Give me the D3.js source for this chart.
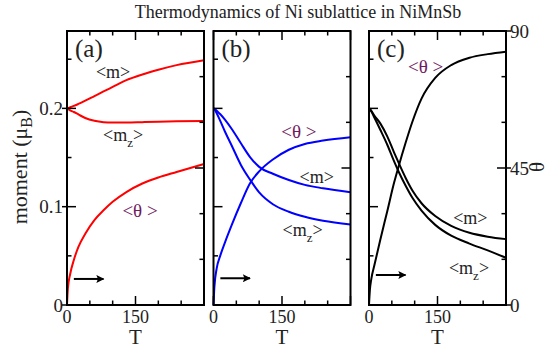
<!DOCTYPE html>
<html>
<head>
<meta charset="utf-8">
<script src="https://d3js.org/d3.v7.min.js"></script>
<style>
	body { margin: 0; background: #fff; }
	svg text { font-family: "Liberation Serif", "Times New Roman", serif; fill: #222; }
</style>
</head>
<body>
<svg id="chart" width="550" height="352" font-family="Liberation Serif, serif"></svg>
<script>
/**
 * Data (T in K, moments in muB, theta in degrees)
 */
let tempAB = [0, 2, 7, 15, 25, 40, 60, 80, 100, 130, 165, 200, 240, 300];
let mA = [0.2, 0.2003, 0.2012, 0.2025, 0.2045, 0.2078, 0.2125, 0.2172, 0.2218, 0.2287, 0.2345, 0.2393, 0.244, 0.249];
let mzA = [0.2, 0.1995, 0.198, 0.1963, 0.1938, 0.1902, 0.1874, 0.186, 0.1856, 0.1856, 0.186, 0.1864, 0.1868, 0.1872];
let thetaA = [0, 5.5, 10.2, 14.8, 19.1, 23.4, 27.9, 31.1, 33.9, 37.1, 39.9, 41.9, 43.7, 46.3];

let mB = [0.2, 0.1998, 0.1975, 0.194, 0.1885, 0.179, 0.1645, 0.1505, 0.1405, 0.1335, 0.1272, 0.1222, 0.1187, 0.1146];
let mzB = [0.2, 0.1993, 0.195, 0.187, 0.1765, 0.162, 0.1425, 0.1275, 0.1145, 0.1025, 0.0949, 0.0898, 0.0858, 0.082];
let thetaB = [0, 6, 12, 16.3, 20.5, 26.3, 33.5, 40, 43.9, 47.8, 51, 52.9, 54, 55.1];

let tempC = [0, 2, 5, 12, 25, 40, 55, 65, 80, 95, 115, 145, 180, 220, 260, 300];
let mC = [0.2, 0.1995, 0.1975, 0.1925, 0.1845, 0.1715, 0.155, 0.1445, 0.1295, 0.1165, 0.1035, 0.0905, 0.0805, 0.0735, 0.0695, 0.067];
let mzC = [0.2, 0.1993, 0.197, 0.1905, 0.178, 0.163, 0.146, 0.1355, 0.1215, 0.109, 0.096, 0.0815, 0.0705, 0.0625, 0.0555, 0.048];
let thetaC = [0, 5, 8.5, 13.2, 21.6, 30.8, 40.2, 45.6, 53.2, 60.2, 67.8, 74.6, 78.8, 81.2, 82.4, 83.2];

let tempTicks = [0, 150];
let momentTicks = [0, 0.1, 0.2];
let thetaTicks = [0, 45, 90];

let title = "Thermodynamics of Ni sublattice in NiMnSb";
let thetaColor = "#701a60";

/**
 * Layout
 */
let plotTop = 31;
let plotBottom = 305;
let panelW = 137;
let panelLefts = [67, 213.5, 369];

let yScale = d3.scaleLinear().domain([0, 0.2787]).range([plotBottom, plotTop]);
let thetaScale = d3.scaleLinear().domain([0, 90]).range([plotBottom, plotTop]);

let svg = d3.select("#chart");

svg.append("defs").append("marker")
	.attr("id", "head")
	.attr("viewBox", "0 0 10 10")
	.attr("refX", 9)
	.attr("refY", 5)
	.attr("markerWidth", 5)
	.attr("markerHeight", 4)
	.attr("markerUnits", "strokeWidth")
	.attr("orient", "auto")
	.append("path")
	.attr("d", "M0,0 L10,5 L0,10 L2,5 Z")
	.attr("fill", "#000");

let panels = [
	{ key: "(a)", color: "#ff0000", temp: tempAB, m: mA, mz: mzA, theta: thetaA,
		labM: [101, 0.237], labMz: [123, 0.173], labTheta: [160, 0.0966], arrowY: 0.0265 },
	{ key: "(b)", color: "#0000ff", temp: tempAB, m: mB, mz: mzB, theta: thetaB,
		labM: [226, 0.131], labMz: [195, 0.0765], labTheta: [187, 0.177], arrowY: 0.0272 },
	{ key: "(c)", color: "#000000", temp: tempC, m: mC, mz: mzC, theta: thetaC,
		labM: [222, 0.0885], labMz: [219, 0.0375], labTheta: [124, 0.243], arrowY: 0.0305 }
];

panels.forEach(function(p, i) {
	let x0 = panelLefts[i];
	let xScale = d3.scaleLinear().domain([0, 300]).range([x0, x0 + panelW]);
	let g = svg.append("g").attr("class", "panel");

	// Curves
	let lineM = d3.line()
		.x(function(d, j) { return xScale(p.temp[j]); })
		.y(function(d) { return yScale(d); })
		.curve(d3.curveMonotoneX);
	let lineTheta = d3.line()
		.x(function(d, j) { return xScale(p.temp[j]); })
		.y(function(d) { return thetaScale(d); })
		.curve(d3.curveMonotoneX);

	[p.m, p.mz].forEach(function(series) {
		g.append("path").datum(series)
			.attr("d", lineM)
			.attr("fill", "none")
			.attr("stroke", p.color)
			.attr("stroke-width", 2);
	});
	g.append("path").datum(p.theta)
		.attr("d", lineTheta)
		.attr("fill", "none")
		.attr("stroke", p.color)
		.attr("stroke-width", 2);

	// Ticks (all inside, majors longer)
	let ticks = g.append("g").attr("stroke", "#000").attr("stroke-width", 1.5);
	d3.range(0, 301, 50).forEach(function(t) {
		let len = (t % 150 === 0) ? 9 : 4.5;
		ticks.append("line").attr("x1", xScale(t)).attr("x2", xScale(t))
			.attr("y1", plotBottom).attr("y2", plotBottom - len);
		ticks.append("line").attr("x1", xScale(t)).attr("x2", xScale(t))
			.attr("y1", plotTop).attr("y2", plotTop + len);
	});
	d3.range(0, 0.2787, 0.05).forEach(function(v, k) {
		let len = (k % 2 === 0) ? 9 : 4.5;
		let out = (i === 0 && k % 2 === 0) ? 5 : 0;
		ticks.append("line").attr("x1", x0 - out).attr("x2", x0 + len)
			.attr("y1", yScale(v)).attr("y2", yScale(v));
	});
	d3.range(0, 91, 15).forEach(function(v) {
		let len = (v % 45 === 0) ? 9 : 4.5;
		let out = (i === 2 && v % 45 === 0) ? 5 : 0;
		ticks.append("line").attr("x1", x0 + panelW + out).attr("x2", x0 + panelW - len)
			.attr("y1", thetaScale(v)).attr("y2", thetaScale(v));
	});

	// Frame
	g.append("rect")
		.attr("x", x0).attr("y", plotTop)
		.attr("width", panelW).attr("height", plotBottom - plotTop)
		.attr("fill", "none").attr("stroke", "#000").attr("stroke-width", 2);

	// X tick labels and axis title
	g.selectAll(".xtick").data(tempTicks).enter().append("text")
		.attr("class", "xtick")
		.attr("x", function(d) { return xScale(d); })
		.attr("y", 323)
		.attr("text-anchor", "middle")
		.style("font-size", "18px")
		.text(function(d) { return d; });
	g.append("text")
		.attr("x", xScale(150)).attr("y", 344)
		.attr("text-anchor", "middle")
		.style("font-size", "21px")
		.text("T");

	// Panel letter
	g.append("text")
		.attr("x", x0 + 8).attr("y", 57)
		.style("font-size", "25px")
		.text(p.key);

	// Annotations
	g.append("text")
		.attr("x", xScale(p.labM[0])).attr("y", yScale(p.labM[1]))
		.attr("dy", "0.35em").attr("text-anchor", "middle")
		.style("font-size", "18px")
		.text("<m>");
	let mz = g.append("text")
		.attr("x", xScale(p.labMz[0])).attr("y", yScale(p.labMz[1]))
		.attr("dy", "0.35em").attr("text-anchor", "middle")
		.style("font-size", "18px");
	mz.append("tspan").text("<m");
	mz.append("tspan").attr("dy", 6).style("font-size", "13px").text("z");
	mz.append("tspan").attr("dy", -6).text(">");
	g.append("text")
		.attr("x", xScale(p.labTheta[0])).attr("y", yScale(p.labTheta[1]))
		.attr("dy", "0.35em").attr("text-anchor", "middle")
		.style("font-size", "19px")
		.style("fill", thetaColor)
		.text("<\u03b8 >");

	// Arrow
	g.append("line")
		.attr("x1", xScale(15)).attr("x2", xScale(80))
		.attr("y1", yScale(p.arrowY)).attr("y2", yScale(p.arrowY))
		.attr("stroke", "#000").attr("stroke-width", 2)
		.attr("marker-end", "url(#head)");
});

// Left axis labels
svg.selectAll(".ytick").data(momentTicks).enter().append("text")
	.attr("class", "ytick")
	.attr("x", 63)
	.attr("y", function(d) { return yScale(d); })
	.attr("dy", "0.35em")
	.attr("text-anchor", "end")
	.style("font-size", "19px")
	.text(function(d) { return d; });

// Right axis labels
svg.selectAll(".ttick").data(thetaTicks).enter().append("text")
	.attr("class", "ttick")
	.attr("x", 510)
	.attr("y", function(d) { return thetaScale(d); })
	.attr("dy", "0.35em")
	.style("font-size", "19px")
	.text(function(d) { return d; });

// Axis titles
let ylab = svg.append("text")
	.attr("transform", "translate(27,167) rotate(-90)")
	.attr("text-anchor", "middle")
	.style("font-size", "22px");
ylab.append("tspan").text("moment (\u03bc");
ylab.append("tspan").attr("dy", 5).style("font-size", "16px").text("B");
ylab.append("tspan").attr("dy", -5).text(")");

svg.append("text")
	.attr("transform", "translate(544,167) rotate(-90)")
	.attr("text-anchor", "middle")
	.style("font-size", "21px")
	.text("\u03b8");

svg.append("text")
	.attr("x", 298).attr("y", 18)
	.attr("text-anchor", "middle")
	.style("font-size", "18px")
	.text(title);
</script>
</body>
</html>
